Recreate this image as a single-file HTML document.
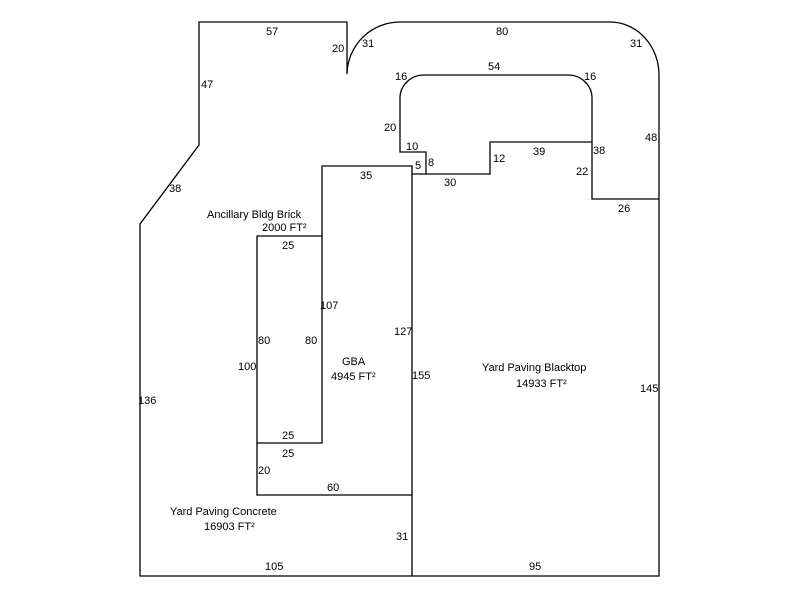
<!DOCTYPE html>
<html><head><style>
body{margin:0;background:#fff}
text{font-family:"Liberation Sans",sans-serif;font-size:11px;fill:#000}
</style></head><body>
<svg width="800" height="600" xmlns="http://www.w3.org/2000/svg">
<g fill="none" stroke="#000" stroke-width="1.3">
<path d="M140,576 L140,224 L199,145 L199,22 L347,22 L347,74 A53,53 0 0 1 400,22 L610,22 A49,53 0 0 1 659,75 L659,576 Z"/>
<path d="M412,174 L426,174 L426,152 L400,152 L400,98 A24,23 0 0 1 424,75 L568,75 A24,23 0 0 1 592,98 L592,199 L659,199"/>
<path d="M426,174 L490,174 L490,142 L592,142"/>
<path d="M322,236 L322,166 L412,166 L412,576"/>
<path d="M257,236 L322,236 L322,443 L257,443 Z"/>
<path d="M257,443 L257,495 L412,495"/>
</g>
<text x="266" y="35">57</text>
<text x="332" y="52">20</text>
<text x="362" y="47">31</text>
<text x="496" y="35">80</text>
<text x="630" y="47">31</text>
<text x="201" y="88">47</text>
<text x="395" y="80">16</text>
<text x="488" y="70">54</text>
<text x="584" y="80">16</text>
<text x="384" y="131">20</text>
<text x="406" y="150">10</text>
<text x="415" y="169">5</text>
<text x="428" y="166">8</text>
<text x="493" y="162">12</text>
<text x="533" y="155">39</text>
<text x="593" y="154">38</text>
<text x="576" y="175">22</text>
<text x="645" y="141">48</text>
<text x="444" y="186">30</text>
<text x="618" y="212">26</text>
<text x="360" y="179">35</text>
<text x="169" y="192">38</text>
<text x="207" y="218">Ancillary Bldg  Brick</text>
<text x="262" y="231">2000 FT²</text>
<text x="282" y="249">25</text>
<text x="320" y="309">107</text>
<text x="394" y="335">127</text>
<text x="258" y="344">80</text>
<text x="305" y="344">80</text>
<text x="238" y="370">100</text>
<text x="342" y="365">GBA</text>
<text x="331" y="380">4945 FT²</text>
<text x="412" y="379">155</text>
<text x="482" y="371">Yard Paving Blacktop</text>
<text x="516" y="387">14933 FT²</text>
<text x="640" y="392">145</text>
<text x="138" y="404">136</text>
<text x="282" y="439">25</text>
<text x="282" y="457">25</text>
<text x="258" y="474">20</text>
<text x="327" y="491">60</text>
<text x="170" y="515">Yard Paving Concrete</text>
<text x="204" y="530">16903 FT²</text>
<text x="396" y="540">31</text>
<text x="265" y="570">105</text>
<text x="529" y="570">95</text>
</svg>
</body></html>
